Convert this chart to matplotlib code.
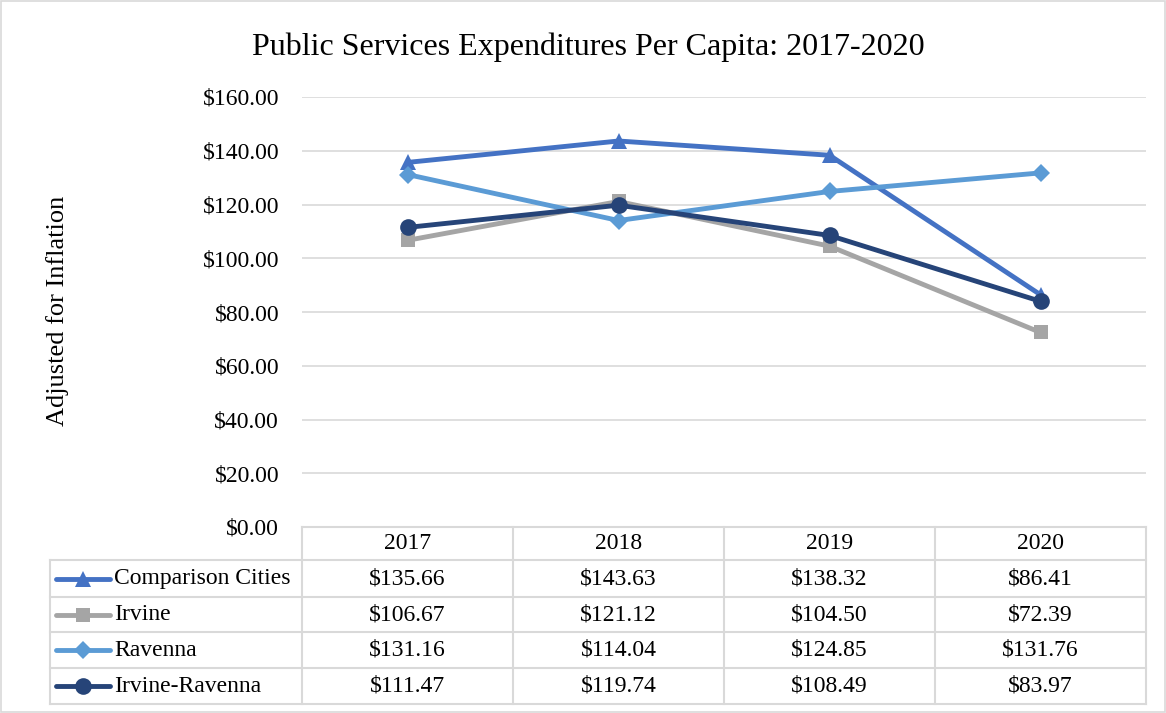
import matplotlib
matplotlib.use("Agg")
import matplotlib.pyplot as plt
from matplotlib.lines import Line2D
from matplotlib.patches import Rectangle

years = ["2017", "2018", "2019", "2020"]
series_names = ["Comparison Cities", "Irvine", "Ravenna", "Irvine-Ravenna"]
comparison = [135.66, 143.63, 138.32, 86.41]
irvine = [106.67, 121.12, 104.50, 72.39]
ravenna = [131.16, 114.04, 124.85, 131.76]
irvine_ravenna = [111.47, 119.74, 108.49, 83.97]
values = [comparison, irvine, ravenna, irvine_ravenna]
colors = ["#4472C4", "#A5A5A5", "#5B9BD5", "#264478"]
markers = ["^", "s", "D", "o"]
msizes = [12, 10.5, 9.5, 12]

plt.rcParams['font.family'] = ['Liberation Serif', 'DejaVu Serif']

W, H = 1166, 713
fig = plt.figure(figsize=(W / 100, H / 100), dpi=100)

def fx(px):
    return px / W

def fy(py):
    return 1 - py / H

L, R, T, B = 302, 1146, 97, 527
ax = fig.add_axes([fx(L), fy(B), fx(R) - fx(L), fy(T) - fy(B)])
x = list(range(len(years)))
for i, (name, vals) in enumerate(zip(series_names, values)):
    ax.plot(x, vals, color=colors[i], lw=3.5, marker=markers[i], ms=msizes[i],
            markeredgewidth=0, solid_capstyle='round', zorder=3 + i, clip_on=False)
ax.set_xlim(-0.5, len(years) - 0.5)
ax.set_ylim(0, 160)
ax.set_yticks(range(0, 161, 20))
ax.set_yticklabels([f"${v:.2f}" for v in range(0, 161, 20)], fontsize=17)
ax.set_xticks([])
ax.yaxis.grid(True, color="#D9D9D9", lw=1.2)
ax.set_axisbelow(True)
for s in ax.spines.values():
    s.set_visible(False)
ax.tick_params(axis='y', length=0, pad=16.5)

fig.text(fx(58), fy(311), "Adjusted for Inflation", rotation=90,
         ha='center', va='center', fontsize=19)
fig.text(fx(588), fy(47), "Public Services Expenditures Per Capita: 2017-2020",
         ha='center', va='center', fontsize=23)

# Data table
lc = "#D9D9D9"
rows_y = [527, 560, 597, 632, 668, 704]
col_x = [L + (R - L) * k / 4 for k in range(5)]
tl = 50

def hline(x0, x1, y):
    fig.add_artist(Line2D([fx(x0), fx(x1)], [fy(y), fy(y)], color=lc, lw=1.5))

def vline(x, y0, y1):
    fig.add_artist(Line2D([fx(x), fx(x)], [fy(y0), fy(y1)], color=lc, lw=1.5))

hline(L, R, rows_y[0])
for y in rows_y[1:]:
    hline(tl, R, y)
for cx in col_x:
    vline(cx, rows_y[0], rows_y[-1])
vline(tl, rows_y[1], rows_y[-1])

# header
for k, yr in enumerate(years):
    cx = (col_x[k] + col_x[k + 1]) / 2
    fig.text(fx(cx), fy((rows_y[0] + rows_y[1]) / 2), yr, ha='center', va='center', fontsize=17)

for i, (name, vals) in enumerate(zip(series_names, values)):
    yc = (rows_y[i + 1] + rows_y[i + 2]) / 2
    fig.add_artist(Line2D([fx(56), fx(110)], [fy(yc), fy(yc)], color=colors[i], lw=3.5,
                          solid_capstyle='round'))
    fig.add_artist(Line2D([fx(83)], [fy(yc)], color=colors[i], marker=markers[i],
                          ms=msizes[i], markeredgewidth=0))
    fig.text(fx(114), fy(yc), name, ha='left', va='center', fontsize=17)
    for k, v in enumerate(vals):
        cx = (col_x[k] + col_x[k + 1]) / 2
        fig.text(fx(cx), fy(yc), f"${v:.2f}", ha='center', va='center', fontsize=17)

fig.add_artist(Rectangle((0.001, 0.001), 0.998, 0.998, transform=fig.transFigure,
                         fill=False, edgecolor="#D9D9D9", lw=1.2))

fig.savefig("out.png", dpi=100)
